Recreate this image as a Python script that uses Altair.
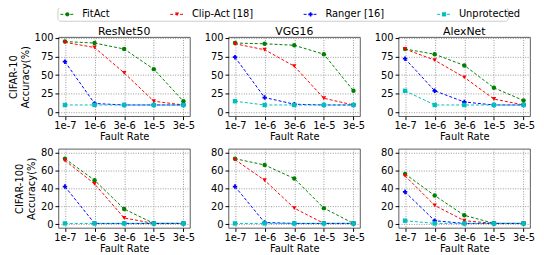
import altair as alt
import pandas as pd

rates = ["1e-7", "1e-6", "3e-6", "1e-5", "3e-5"]
series = ["FitAct", "Clip-Act [18]", "Ranger [16]", "Unprotected"]
colors = ["#008000", "#ff0000", "#0000ff", "#00bfbf"]
shapes = ["circle", "triangle-down", "cross", "square"]
models = ["ResNet50", "VGG16", "AlexNet"]
datasets = ["CIFAR-10", "CIFAR-100"]

# CIFAR-10
c10_resnet50 = [
    [95, 93, 85, 58, 15],
    [94, 87, 53, 15, 10],
    [68, 12, 10, 10, 10],
    [10, 10, 10, 10, 10],
]
c10_vgg16 = [
    [93, 92, 90, 78, 29],
    [92, 84, 62, 19, 10],
    [74, 20, 11, 10, 10],
    [15, 10, 10, 10, 10],
]
c10_alexnet = [
    [85, 78, 63, 33, 16],
    [85, 70, 47, 18, 10],
    [72, 29, 14, 10, 10],
    [29, 10, 10, 10, 10],
]
# CIFAR-100
c100_resnet50 = [
    [73, 49, 17, 1, 1],
    [71, 45, 7, 1, 1],
    [42, 1, 1, 1, 1],
    [1, 1, 1, 1, 1],
]
c100_vgg16 = [
    [73, 66, 51, 18, 1],
    [72, 49, 18, 1, 1],
    [42, 2, 1, 1, 1],
    [1, 1, 1, 1, 1],
]
c100_alexnet = [
    [56, 32, 10, 1, 1],
    [54, 21, 4, 1, 1],
    [36, 4, 1, 1, 1],
    [4, 1, 1, 1, 1],
]

tables = {
    ("CIFAR-10", "ResNet50"): c10_resnet50,
    ("CIFAR-10", "VGG16"): c10_vgg16,
    ("CIFAR-10", "AlexNet"): c10_alexnet,
    ("CIFAR-100", "ResNet50"): c100_resnet50,
    ("CIFAR-100", "VGG16"): c100_vgg16,
    ("CIFAR-100", "AlexNet"): c100_alexnet,
}

rows = []
for (ds, m), tab in tables.items():
    for si, s in enumerate(series):
        for ri, r in enumerate(rates):
            rows.append({"dataset": ds, "model": m, "series": s, "rate": r,
                         "order": si, "acc": tab[si][ri]})
df = pd.DataFrame(rows)

FONT = "DejaVu Sans"
PW, PH = 133, 80
color_enc = alt.Color("series:N", scale=alt.Scale(domain=series, range=colors), legend=None)
shape_enc = alt.Shape("series:N", scale=alt.Scale(domain=series, range=shapes), legend=None)

# legend layers (drawn above the first panel, spanning the figure)
leg_pos = [9, 120, 255, 390]
leg_df = pd.DataFrame({"series": series})


def legend_layers():
    layers = [alt.Chart(leg_df).transform_filter(alt.datum.series == series[0]).mark_rect(
        fill="white", stroke="#cccccc", strokeWidth=1, cornerRadius=3).encode(
        x=alt.value(-0.5), x2=alt.value(455), y=alt.value(-30), y2=alt.value(-16))]
    for i, s in enumerate(series):
        base = alt.Chart(leg_df).transform_filter(alt.datum.series == s)
        px = leg_pos[i]
        layers.append(base.mark_rule(strokeDash=[3, 2], strokeWidth=1).encode(
            x=alt.value(px - 7), x2=alt.value(px + 7), y=alt.value(-23), color=color_enc))
        layers.append(base.mark_point(filled=True, size=18, opacity=1).encode(
            x=alt.value(px), y=alt.value(-23), color=color_enc, shape=shape_enc))
        layers.append(base.mark_text(align="left", baseline="middle", fontSize=10,
                                     font=FONT, color="black").encode(
            x=alt.value(px + 15), y=alt.value(-23), text="series:N"))
    return layers


def panel(ds, model, row, col):
    d = df[(df.dataset == ds) & (df.model == model)]
    x = alt.X("rate:N", sort=rates,
              scale=alt.Scale(domain=rates, padding=0.22),
              axis=alt.Axis(title="Fault Rate", labelAngle=0, grid=True,
                            gridDash=[1, 1.5], gridColor="#999999", gridOpacity=1,
                            domain=False, tickColor="black", tickSize=3.5,
                            labelFontSize=10, titleFontSize=10, labelColor="black",
                            titleColor="black", titleFontWeight="normal",
                            labelPadding=1, titlePadding=1))
    if row == 0:
        dom = [-5, 101]
        vals = [0, 25, 50, 75, 100]
    else:
        dom = [-4, 84]
        vals = [0, 20, 40, 60, 80]
    yaxis_kw = dict(values=vals, grid=True, gridDash=[1, 1.5], gridColor="#999999",
                    gridOpacity=1, domain=False, tickColor="black", tickSize=3.5,
                    labelFontSize=10, titleFontSize=10, labelColor="black",
                    titleColor="black", titleFontWeight="normal", labelPadding=2,
                    titlePadding=4)
    yaxis_kw["title"] = [ds, "Accuracy(%)"] if col == 0 else None
    y = alt.Y("acc:Q", scale=alt.Scale(domain=dom, nice=False, zero=False),
              axis=alt.Axis(**yaxis_kw))
    line = alt.Chart(d).mark_line(strokeDash=[3, 2], strokeWidth=1).encode(
        x=x, y=y, color=color_enc, order="order:Q")
    pts = alt.Chart(d).mark_point(filled=True, size=20, opacity=1).encode(
        x=x, y=y, color=color_enc, shape=shape_enc)
    layers = [line, pts]
    if row == 0:
        tdf = pd.DataFrame({"model": [model]})
        layers.append(alt.Chart(tdf).mark_text(
            align="center", baseline="alphabetic", fontSize=11, font=FONT,
            color="black").encode(x=alt.value(PW / 2), y=alt.value(-2.5), text="model:N"))
        if col == 0:
            layers.extend(legend_layers())
    return alt.layer(*layers).properties(
        width=PW, height=PH,
        view=alt.ViewBackground(stroke="#333333", strokeWidth=0.8))


panels = []
for ri, ds in enumerate(datasets):
    for ci, m in enumerate(models):
        panels.append(panel(ds, m, ri, ci))

chart = alt.concat(*panels, columns=3, spacing={"row": 33, "column": 39},
                   bounds="flush").properties(
    padding={"left": 0, "top": -3, "right": 0, "bottom": 0}).configure(
    font=FONT).configure_axis(labelFont=FONT, titleFont=FONT)

chart.save("out.html", embed_options={"renderer": "svg", "actions": False})
